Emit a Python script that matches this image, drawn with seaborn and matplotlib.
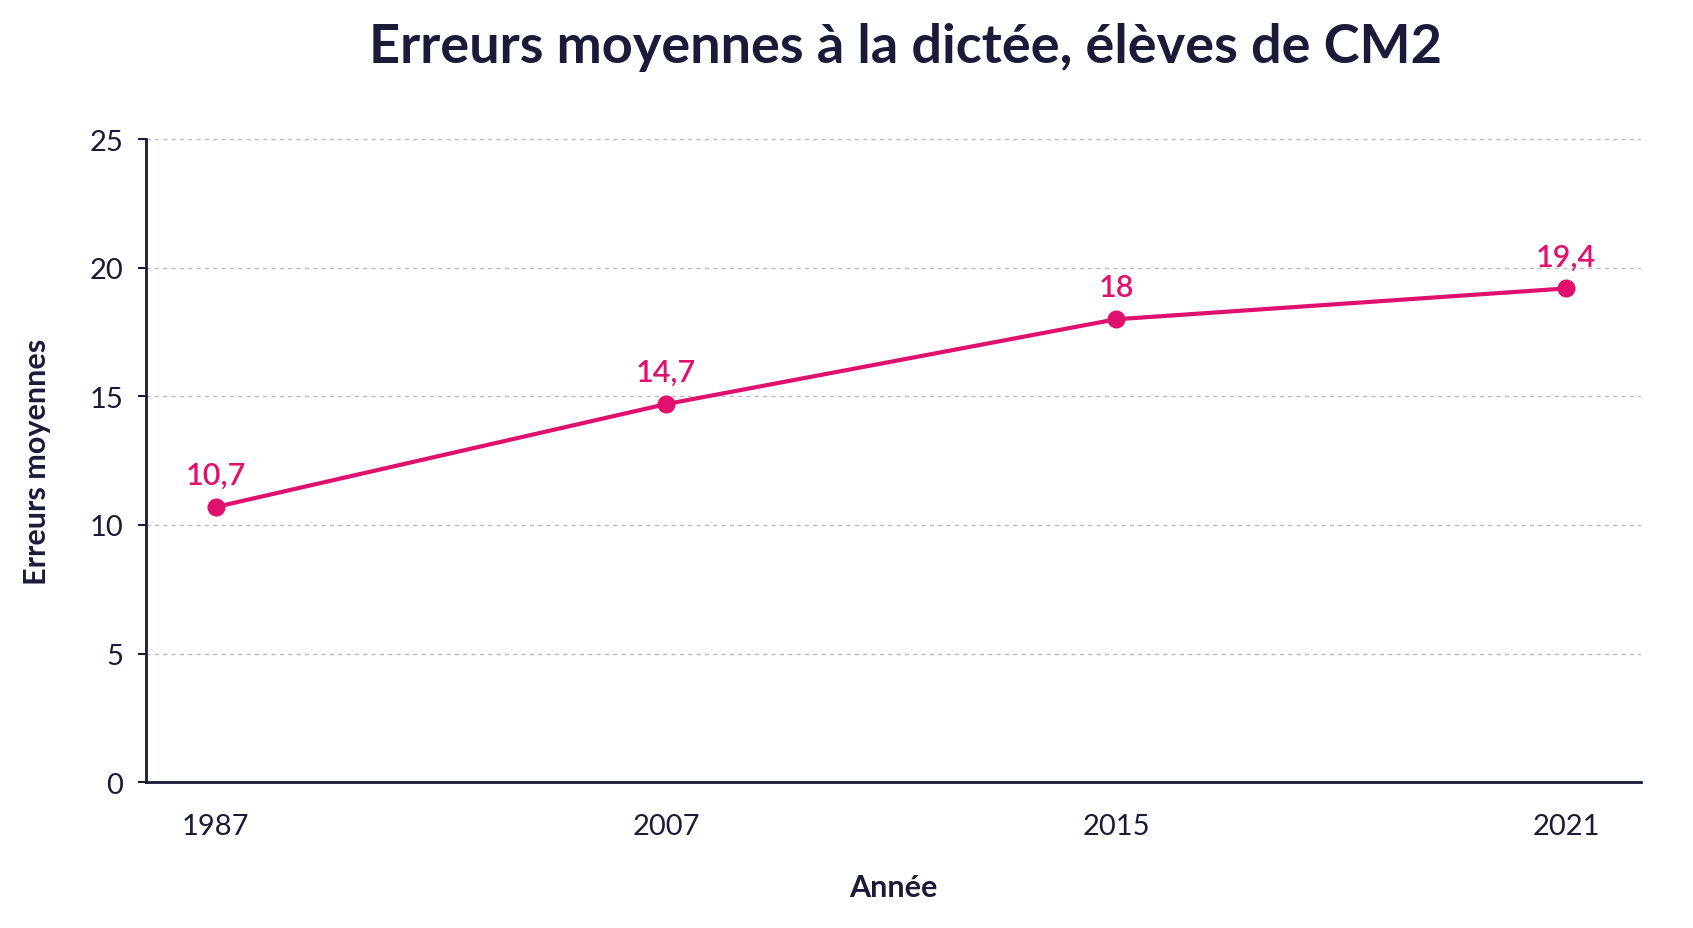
import matplotlib
matplotlib.use("Agg")
import matplotlib.pyplot as plt
import seaborn as sns
import pandas as pd

years = ["1987", "2007", "2015", "2021"]
errors = [10.7, 14.7, 18.0, 19.2]
labels = ["10,7", "14,7", "18", "19,4"]

sns.set_theme(style="white")
plt.rcParams['font.family'] = ['Lato', 'DejaVu Sans']
pink = "#E0106E"
navy = "#1b1a38"

df = pd.DataFrame({"pos": range(len(years)), "err": errors})
fig = plt.figure(figsize=(16.93, 9.29), dpi=100)
ax = fig.add_axes([0.086, 0.157, 0.883, 0.692])
sns.lineplot(data=df, x="pos", y="err", ax=ax, color=pink, lw=3, marker="o",
             markersize=13, markeredgewidth=0)
for i, (v, t) in enumerate(zip(errors, labels)):
    ax.annotate(t, (i, v), xytext=(0, 13), textcoords="offset points",
                ha="center", va="bottom", color=pink, fontsize=22, fontweight="semibold")
ax.set_xlim(-0.156, 3.165)
ax.set_ylim(0, 25)
ax.set_yticks([0, 5, 10, 15, 20, 25])
ax.set_xticks(range(len(years)))
ax.set_xticklabels(years)
ax.yaxis.grid(True, ls=(0, (3, 3)), color="#bbbbbb", lw=1)
for s in ["top", "right"]:
    ax.spines[s].set_visible(False)
for s in ["left", "bottom"]:
    ax.spines[s].set_color(navy)
    ax.spines[s].set_linewidth(2)
ax.tick_params(axis="both", labelsize=21, colors=navy, length=6, width=1.5, left=True, bottom=False, pad=10)
ax.tick_params(axis="x", pad=16)
ax.set_xlabel("Année", fontsize=22, fontweight="bold", color=navy, labelpad=25)
ax.set_ylabel("Erreurs moyennes", fontsize=22, fontweight="bold", color=navy, labelpad=28)
fig.suptitle("Erreurs moyennes à la dictée, élèves de CM2", fontsize=39,
             fontweight="bold", color=navy, x=0.535, y=0.975)
fig.savefig("out.png", dpi=100, facecolor="white")
